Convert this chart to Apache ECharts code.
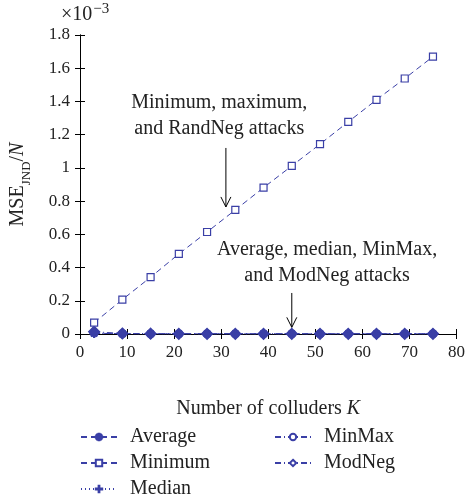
<!DOCTYPE html>
<html><head><meta charset="utf-8">
<script src="https://cdn.jsdelivr.net/npm/echarts@6/dist/echarts.min.js"></script>
<style>html,body{margin:0;padding:0;background:#fff}#c{width:468px;height:500px}</style>
</head><body><div id="c"></div>
<script>
const colluders = [3, 9, 15, 21, 27, 33, 39, 45, 51, 57, 63, 69, 75];
// values in units of 1e-3
const minimumVals = [0.068, 0.207, 0.342, 0.482, 0.614, 0.747, 0.881, 1.012, 1.143, 1.277, 1.41, 1.538, 1.67];
const averageVals = [0.004, 0.002, 0.001, 0.001, 0.001, 0.001, 0.001, 0.001, 0.001, 0.001, 0.001, 0.001, 0.001];
const medianVals  = [0.005, 0.002, 0.001, 0.001, 0.001, 0.001, 0.001, 0.001, 0.001, 0.001, 0.001, 0.001, 0.001];
const minmaxVals  = [0.006, 0.002, 0.001, 0.001, 0.001, 0.001, 0.001, 0.001, 0.001, 0.001, 0.001, 0.001, 0.001];
const modnegVals  = [0.014, 0.003, 0.002, 0.001, 0.001, 0.001, 0.001, 0.001, 0.001, 0.001, 0.001, 0.001, 0.001];
const xTicks = [0, 10, 20, 30, 40, 50, 60, 70, 80];
const yTicks = [0, 0.2, 0.4, 0.6, 0.8, 1, 1.2, 1.4, 1.6, 1.8];

const BLUE = '#3a3fa6';
const FONT = 'Liberation Serif';
const TXT = '#222';
const pairs = v => colluders.map((k, i) => [k, v[i]]);
const plusPath = 'path://M-0.6,-5H0.6V5H-0.6Z M-5,-0.6H5V0.6H-5Z';
const starPath = 'path://M-0.6,-5H0.6V5H-0.6Z M-5,-0.6H5V0.6H-5Z M-3.9,-3.1L-3.1,-3.9L3.9,3.1L3.1,3.9Z M3.1,-3.9L3.9,-3.1L-3.1,3.9L-3.9,3.1Z';

const chart = echarts.init(document.getElementById('c'), null, {renderer: 'canvas'});
const axisCommon = {
  axisLine: {show: true, lineStyle: {color: '#000', width: 1}},
  axisTick: {show: true, inside: true, length: 5, lineStyle: {color: '#000'}},
  splitLine: {show: false},
  axisLabel: {color: TXT, fontFamily: FONT, fontSize: 17}
};
function mk(name, data, symbol, size, dash, fill, z) {
  return {
    name, type: 'line', data: pairs(data), symbol, symbolSize: size,
    showAllSymbol: true, z,
    lineStyle: {color: BLUE, width: 1, type: dash},
    itemStyle: {color: fill, borderColor: BLUE, borderWidth: 1.2},
    emphasis: {disabled: true}, animation: false
  };
}
const legText = {fontFamily: FONT, fontSize: 20, color: TXT, lineHeight: 20, padding: [0, 0, 0, 8]};
const hollow = n => ({name: n, itemStyle: {color: '#fff', borderColor: BLUE}});
const option = {
  animation: false,
  grid: {left: 80, right: 10, top: 35, bottom: 166},
  xAxis: [
    Object.assign({}, axisCommon, {type: 'value', min: 0, max: 80, interval: 10,
      name: '{a|Number of colluders }{i|K}', nameLocation: 'middle', nameGap: 65,
      nameTextStyle: {rich: {a: {fontFamily: FONT, fontSize: 20, color: TXT}, i: {fontFamily: FONT, fontSize: 20, fontStyle: 'italic', color: TXT}}},
      axisLabel: Object.assign({}, axisCommon.axisLabel, {margin: 10})}),
    Object.assign({}, axisCommon, {type: 'value', min: 0, max: 80, interval: 10, position: 'top', axisLabel: {show: false}})
  ],
  yAxis: [
    Object.assign({}, axisCommon, {type: 'value', min: 0, max: 1.8, interval: 0.2,
      name: '{a|MSE}{s|JND}{a|/}{i|N}', nameLocation: 'middle', nameGap: 52, nameRotate: 90,
      nameTextStyle: {rich: {
        a: {fontFamily: FONT, fontSize: 20, color: TXT, verticalAlign: 'bottom', lineHeight: 24},
        s: {fontFamily: FONT, fontSize: 13, color: TXT, verticalAlign: 'bottom', lineHeight: 16, padding: [0,0,-5,0]},
        i: {fontFamily: FONT, fontSize: 20, fontStyle: 'italic', color: TXT, verticalAlign: 'bottom', lineHeight: 24}}},
      axisLabel: Object.assign({}, axisCommon.axisLabel, {margin: 10})}),
    Object.assign({}, axisCommon, {type: 'value', min: 0, max: 1.8, interval: 0.2, position: 'right', axisLabel: {show: false}})
  ],
  legend: [
    {data: ['Average', hollow('Minimum'), 'Median'], orient: 'vertical', left: 80, top: 427, itemGap: 6,
     padding: 0, height: 73, itemWidth: 36, itemHeight: 8, textStyle: legText},
    {data: [hollow('MinMax'), hollow('ModNeg')], orient: 'vertical', left: 274, top: 427, itemGap: 6,
     padding: 0, height: 73, itemWidth: 36, itemHeight: 8, textStyle: legText}
  ],
  series: [
    mk('MinMax', minmaxVals, 'circle', 7, [6, 3, 1, 3], '#fff', 2),
    mk('ModNeg', modnegVals, 'diamond', 11, [6, 3, 1, 3], BLUE, 3),
    mk('Average', averageVals, starPath, 8, [6, 4], BLUE, 4),
    mk('Median', medianVals, plusPath, 8, [1, 3], BLUE, 5),
    mk('Minimum', minimumVals, 'rect', 7, [6, 4], '#fff', 6)
  ]
};
chart.setOption(option);

function annotate() {
  const p = (x, y) => chart.convertToPixel({xAxisIndex: 0, yAxisIndex: 0}, [x, y]);
  const a1top = p(31, 1.12), a1bot = p(31, 0.765);
  const a2top = p(45, 0.247), a2bot = p(45, 0.04);
  const t1 = p(29.6, 1.47), t2 = p(52.5, 0.584);
  const txt = {fontFamily: FONT, fontSize: 20, fill: TXT, textAlign: 'center', lineHeight: 26};
  const arrow = (top, bot) => [
    {type: 'line', shape: {x1: top[0], y1: top[1], x2: bot[0], y2: bot[1]}, style: {stroke: '#000', lineWidth: 1}},
    {type: 'polyline', shape: {points: [[bot[0]-5, bot[1]-10], [bot[0], bot[1]], [bot[0]+5, bot[1]-10]]}, style: {stroke: '#000', lineWidth: 1, fill: null}}
  ];
  chart.setOption({graphic: [
    {type: 'text', x: t1[0], y: t1[1], style: Object.assign({text: 'Minimum, maximum,\nand RandNeg attacks'}, txt)},
    {type: 'text', x: t2[0], y: t2[1], style: Object.assign({text: 'Average, median, MinMax,\nand ModNeg attacks'}, txt)},
    {type: 'text', x: 61, y: 2, style: {rich: {a: {fontFamily: FONT, fontSize: 20, fill: TXT}, s: {fontFamily: FONT, fontSize: 15, fill: TXT, padding: [0,0,10,1]}}, text: '{a|×10}{s|−3}'}}
  ].concat(arrow(a1top, a1bot), arrow(a2top, a2bot))});
}
annotate();
</script></body></html>
